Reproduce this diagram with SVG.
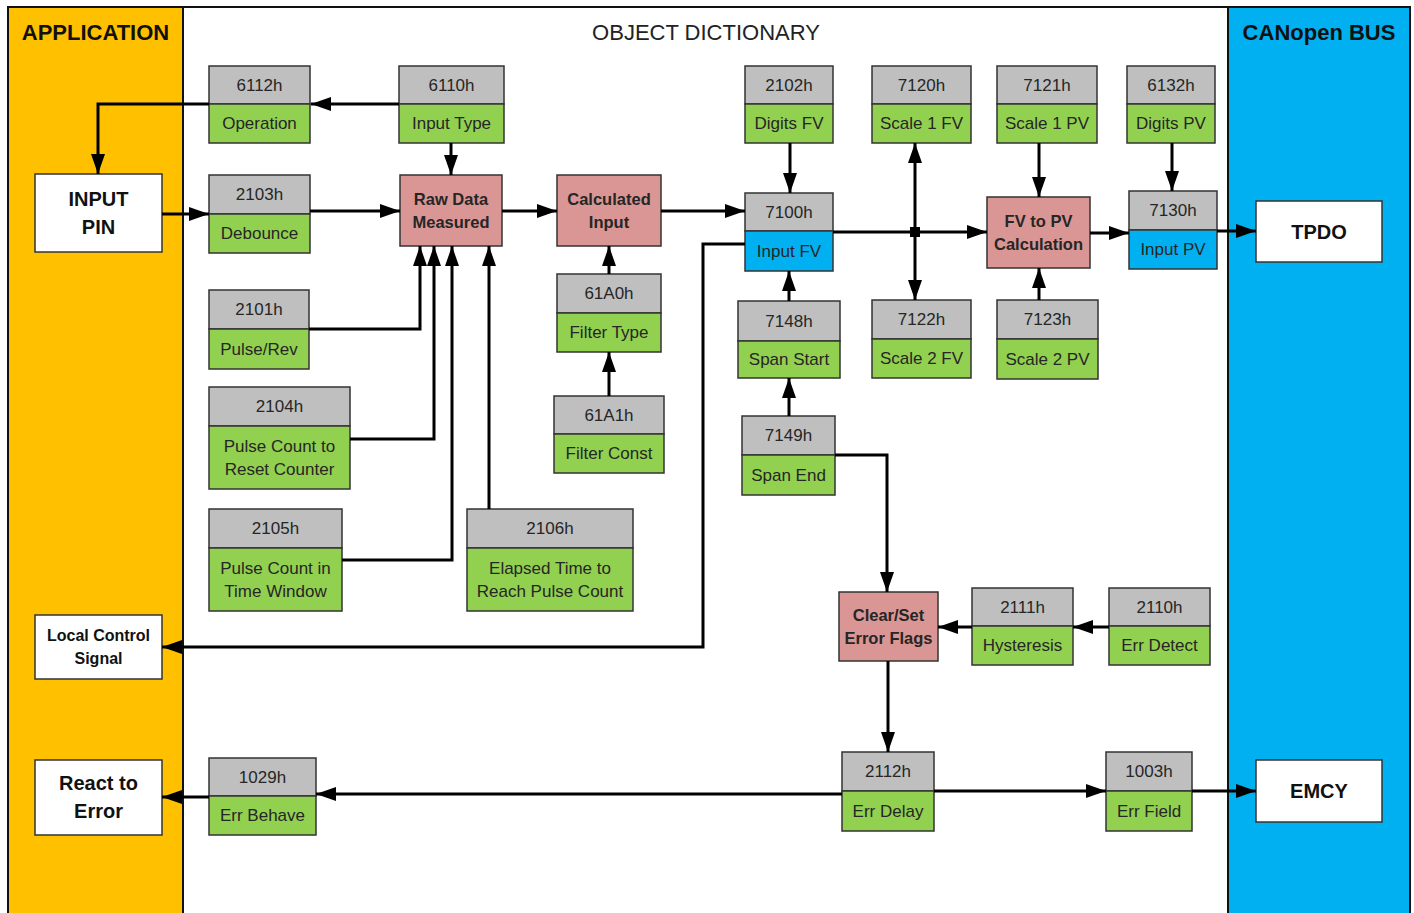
<svg xmlns="http://www.w3.org/2000/svg" width="1414" height="913" viewBox="0 0 1414 913">
<style>
.bx{stroke:#333;stroke-width:1.5}
.g{fill:#BFBFBF}.gr{fill:#92D050}.bl{fill:#00B0F0}.pk{fill:#DA9694}.wh{fill:#FFFFFF}
text{font-family:"Liberation Sans",Arial,sans-serif;fill:#262626;text-anchor:middle;dominant-baseline:central}
.t{font-size:17px}
.tb{font-size:16.5px;font-weight:bold}
.tw{font-size:20px;font-weight:bold;fill:#111}
.ts{font-size:16px;font-weight:bold;fill:#111}
.ttl{font-size:22px;font-weight:bold;fill:#111}
.w{fill:none;stroke:#000;stroke-width:3}
.a{marker-end:url(#ah)}
</style>
<defs>
<marker id="ah" markerUnits="userSpaceOnUse" markerWidth="20" markerHeight="14" refX="20" refY="7" orient="auto"><path d="M0,0 L20,7 L0,14 z" fill="#000"/></marker>
</defs>
<rect x="0" y="0" width="1414" height="913" fill="#FFFFFF"/>
<g id="panels">
<rect x="8" y="7" width="1402" height="920" fill="#FFFFFF" stroke="#111" stroke-width="2"/>
<rect x="8" y="7" width="175" height="920" fill="#FFC000" stroke="#111" stroke-width="2"/>
<rect x="1228" y="7" width="182" height="920" fill="#00B0F0" stroke="#111" stroke-width="2"/>
<text class="ttl" x="95.5" y="32">APPLICATION</text>
<text x="706" y="32" style="font-size:22px;fill:#222">OBJECT DICTIONARY</text>
<text class="ttl" x="1319" y="32">CANopen BUS</text>
</g>
<g id="n6112"><rect class="bx g" x="209" y="66" width="101" height="38"/><rect class="bx gr" x="209" y="104" width="101" height="39"/><text class="t" x="259.5" y="85">6112h</text><text class="t" x="259.5" y="123.5">Operation</text></g>
<g id="n6110"><rect class="bx g" x="399" y="66" width="105" height="38"/><rect class="bx gr" x="399" y="104" width="105" height="39"/><text class="t" x="451.5" y="85">6110h</text><text class="t" x="451.5" y="123.5">Input Type</text></g>
<g id="n2103"><rect class="bx g" x="209" y="175" width="101" height="39"/><rect class="bx gr" x="209" y="214" width="101" height="39"/><text class="t" x="259.5" y="194.5">2103h</text><text class="t" x="259.5" y="233.5">Debounce</text></g>
<g id="n2101"><rect class="bx g" x="209" y="290" width="100" height="39"/><rect class="bx gr" x="209" y="329" width="100" height="40"/><text class="t" x="259" y="309.5">2101h</text><text class="t" x="259" y="349">Pulse/Rev</text></g>
<g id="n2104"><rect class="bx g" x="209" y="387" width="141" height="39"/><rect class="bx gr" x="209" y="426" width="141" height="63"/><text class="t" x="279.5" y="406.5">2104h</text><text class="t" x="279.5" y="446">Pulse Count to</text><text class="t" x="279.5" y="469">Reset Counter</text></g>
<g id="n2105"><rect class="bx g" x="209" y="509" width="133" height="39"/><rect class="bx gr" x="209" y="548" width="133" height="63"/><text class="t" x="275.5" y="528.5">2105h</text><text class="t" x="275.5" y="568">Pulse Count in</text><text class="t" x="275.5" y="591">Time Window</text></g>
<g id="n2106"><rect class="bx g" x="467" y="509" width="166" height="39"/><rect class="bx gr" x="467" y="548" width="166" height="63"/><text class="t" x="550" y="528.5">2106h</text><text class="t" x="550" y="568">Elapsed Time to</text><text class="t" x="550" y="591">Reach Pulse Count</text></g>
<g id="n61A0"><rect class="bx g" x="557" y="274" width="104" height="39"/><rect class="bx gr" x="557" y="313" width="104" height="39"/><text class="t" x="609" y="293.5">61A0h</text><text class="t" x="609" y="332.5">Filter Type</text></g>
<g id="n61A1"><rect class="bx g" x="554" y="396" width="110" height="38"/><rect class="bx gr" x="554" y="434" width="110" height="39"/><text class="t" x="609" y="415">61A1h</text><text class="t" x="609" y="453.5">Filter Const</text></g>
<g id="n2102"><rect class="bx g" x="745" y="66" width="88" height="38"/><rect class="bx gr" x="745" y="104" width="88" height="39"/><text class="t" x="789" y="85">2102h</text><text class="t" x="789" y="123.5">Digits FV</text></g>
<g id="n7120"><rect class="bx g" x="872" y="66" width="99" height="38"/><rect class="bx gr" x="872" y="104" width="99" height="39"/><text class="t" x="921.5" y="85">7120h</text><text class="t" x="921.5" y="123.5">Scale 1 FV</text></g>
<g id="n7121"><rect class="bx g" x="997" y="66" width="100" height="38"/><rect class="bx gr" x="997" y="104" width="100" height="39"/><text class="t" x="1047" y="85">7121h</text><text class="t" x="1047" y="123.5">Scale 1 PV</text></g>
<g id="n6132"><rect class="bx g" x="1127" y="66" width="88" height="38"/><rect class="bx gr" x="1127" y="104" width="88" height="39"/><text class="t" x="1171" y="85">6132h</text><text class="t" x="1171" y="123.5">Digits PV</text></g>
<g id="n7100"><rect class="bx g" x="745" y="193" width="88" height="38"/><rect class="bx bl" x="745" y="231" width="88" height="40"/><text class="t" x="789" y="212">7100h</text><text class="t" x="789" y="251">Input FV</text></g>
<g id="n7130"><rect class="bx g" x="1129" y="191" width="88" height="39"/><rect class="bx bl" x="1129" y="230" width="88" height="39"/><text class="t" x="1173" y="210.5">7130h</text><text class="t" x="1173" y="249.5">Input PV</text></g>
<g id="n7148"><rect class="bx g" x="738" y="301" width="102" height="40"/><rect class="bx gr" x="738" y="341" width="102" height="37"/><text class="t" x="789" y="321">7148h</text><text class="t" x="789" y="359.5">Span Start</text></g>
<g id="n7122"><rect class="bx g" x="872" y="300" width="99" height="39"/><rect class="bx gr" x="872" y="339" width="99" height="39"/><text class="t" x="921.5" y="319.5">7122h</text><text class="t" x="921.5" y="358.5">Scale 2 FV</text></g>
<g id="n7123"><rect class="bx g" x="997" y="300" width="101" height="39"/><rect class="bx gr" x="997" y="339" width="101" height="40"/><text class="t" x="1047.5" y="319.5">7123h</text><text class="t" x="1047.5" y="359">Scale 2 PV</text></g>
<g id="n7149"><rect class="bx g" x="742" y="416" width="93" height="39"/><rect class="bx gr" x="742" y="455" width="93" height="40"/><text class="t" x="788.5" y="435.5">7149h</text><text class="t" x="788.5" y="475">Span End</text></g>
<g id="n2111"><rect class="bx g" x="972" y="588" width="101" height="38"/><rect class="bx gr" x="972" y="626" width="101" height="39"/><text class="t" x="1022.5" y="607">2111h</text><text class="t" x="1022.5" y="645.5">Hysteresis</text></g>
<g id="n2110"><rect class="bx g" x="1109" y="588" width="101" height="38"/><rect class="bx gr" x="1109" y="626" width="101" height="39"/><text class="t" x="1159.5" y="607">2110h</text><text class="t" x="1159.5" y="645.5">Err Detect</text></g>
<g id="n2112"><rect class="bx g" x="842" y="752" width="92" height="39"/><rect class="bx gr" x="842" y="791" width="92" height="40"/><text class="t" x="888" y="771.5">2112h</text><text class="t" x="888" y="811">Err Delay</text></g>
<g id="n1003"><rect class="bx g" x="1106" y="752" width="86" height="39"/><rect class="bx gr" x="1106" y="791" width="86" height="40"/><text class="t" x="1149" y="771.5">1003h</text><text class="t" x="1149" y="811">Err Field</text></g>
<g id="n1029"><rect class="bx g" x="209" y="758" width="107" height="38"/><rect class="bx gr" x="209" y="796" width="107" height="39"/><text class="t" x="262.5" y="777">1029h</text><text class="t" x="262.5" y="815.5">Err Behave</text></g>
<g id="nRaw"><rect class="bx pk" x="400" y="175" width="102" height="71"/><text class="tb" x="451" y="199">Raw Data</text><text class="tb" x="451" y="222">Measured</text></g>
<g id="nCalc"><rect class="bx pk" x="557" y="175" width="104" height="71"/><text class="tb" x="609" y="199">Calculated</text><text class="tb" x="609" y="222">Input</text></g>
<g id="nFVPV"><rect class="bx pk" x="987" y="197" width="103" height="71"/><text class="tb" x="1038.5" y="221">FV to PV</text><text class="tb" x="1038.5" y="244">Calculation</text></g>
<g id="nClear"><rect class="bx pk" x="839" y="592" width="99" height="69"/><text class="tb" x="888.5" y="615">Clear/Set</text><text class="tb" x="888.5" y="638">Error Flags</text></g>
<g id="nInputPin"><rect class="bx wh" x="35" y="174" width="127" height="78"/><text class="tw" x="98.5" y="199">INPUT</text><text class="tw" x="98.5" y="227">PIN</text></g>
<g id="nLocal"><rect class="bx wh" x="35" y="615" width="127" height="64"/><text class="ts" x="98.5" y="635">Local Control</text><text class="ts" x="98.5" y="658">Signal</text></g>
<g id="nReact"><rect class="bx wh" x="35" y="760" width="127" height="75"/><text class="tw" x="98.5" y="783">React to</text><text class="tw" x="98.5" y="811">Error</text></g>
<g id="nTPDO"><rect class="bx wh" x="1256" y="201" width="126" height="61"/><text class="tw" x="1319" y="231.5">TPDO</text></g>
<g id="nEMCY"><rect class="bx wh" x="1256" y="760" width="126" height="62"/><text class="tw" x="1319" y="791">EMCY</text></g>
<g id="connectors">
<path class="w a" d="M399,104 H311"/>
<path class="w a" d="M209,104 H98 V174"/>
<path class="w a" d="M451,143 V175"/>
<path class="w a" d="M162,214 H209"/>
<path class="w a" d="M310,211 H400"/>
<path class="w a" d="M502,211 H557"/>
<path class="w a" d="M661,211 H745"/>
<path class="w a" d="M309,329 H420 V246"/>
<path class="w a" d="M350,439 H434 V246"/>
<path class="w a" d="M342,560 H452 V246"/>
<path class="w a" d="M489,509 V246"/>
<path class="w a" d="M609,274 V246"/>
<path class="w a" d="M609,396 V352"/>
<path class="w a" d="M790,143 V193"/>
<path class="w a" d="M833,232 H987"/>
<path class="w a" d="M915,232 V143"/>
<path class="w a" d="M915,232 V300"/>
<rect x="910" y="227" width="10" height="10" fill="#000"/>
<path class="w a" d="M789,301 V271"/>
<path class="w a" d="M789,416 V378"/>
<path class="w a" d="M835,455 H887 V592"/>
<path class="w a" d="M745,244 H703 V647 H162"/>
<path class="w a" d="M1039,143 V197"/>
<path class="w a" d="M1039,300 V268"/>
<path class="w a" d="M1090,233 H1129"/>
<path class="w a" d="M1172,143 V191"/>
<path class="w a" d="M1217,231 H1256"/>
<path class="w a" d="M1109,627 H1073"/>
<path class="w a" d="M972,627 H938"/>
<path class="w a" d="M888,661 V752"/>
<path class="w a" d="M934,791 H1106"/>
<path class="w a" d="M1192,791 H1256"/>
<path class="w a" d="M842,794 H316"/>
<path class="w a" d="M209,797 H162"/>
</g>
</svg>
